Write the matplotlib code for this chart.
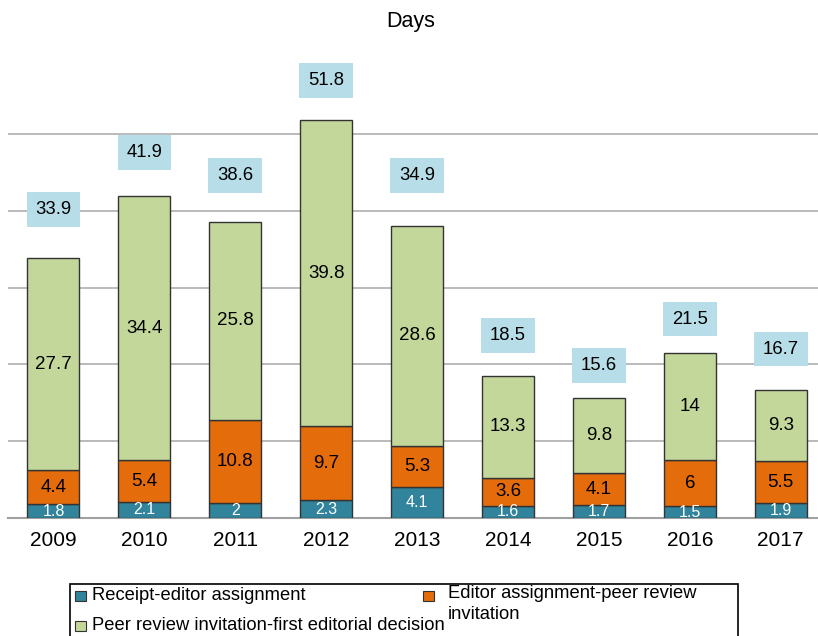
import matplotlib
matplotlib.use("Agg")
import matplotlib.pyplot as plt
from matplotlib.patches import Rectangle

plt.rcParams['font.family'] = ['Liberation Sans', 'DejaVu Sans']

years = ["2009", "2010", "2011", "2012", "2013", "2014", "2015", "2016", "2017"]
receipt_editor = [1.8, 2.1, 2, 2.3, 4.1, 1.6, 1.7, 1.5, 1.9]
editor_peer = [4.4, 5.4, 10.8, 9.7, 5.3, 3.6, 4.1, 6, 5.5]
peer_decision = [27.7, 34.4, 25.8, 39.8, 28.6, 13.3, 9.8, 14, 9.3]
total_labels = ["33.9", "41.9", "38.6", "51.8", "34.9", "18.5", "15.6", "21.5", "16.7"]
series_names = ["Receipt-editor assignment",
                "Editor assignment-peer review\ninvitation",
                "Peer review invitation-first editorial decision"]

# layout (offset of the total label box above each bar, in data units)
label_offsets = [6.3, 5.7, 6.0, 5.2, 6.6, 5.3, 4.3, 4.4, 5.3]

c_blue = "#31849B"
c_orange = "#E46C0A"
c_green = "#C4D79B"
c_box = "#B7DEE8"

W, H = 818, 636
fig = plt.figure(figsize=(W / 100, H / 100), dpi=100)
base_px = 518
top_px = 60
px_per_unit = 7.68
ax = fig.add_axes([8 / W, (H - base_px) / H, 1 - 8 / W, (base_px - top_px) / H])

x = list(range(len(years)))
bw = 0.572
ekw = dict(edgecolor="#333333", linewidth=1.0, zorder=3)
ax.bar(x, receipt_editor, bw, color=c_blue, **ekw)
b2 = [a for a in receipt_editor]
ax.bar(x, editor_peer, bw, bottom=b2, color=c_orange, **ekw)
b3 = [a + b for a, b in zip(receipt_editor, editor_peer)]
ax.bar(x, peer_decision, bw, bottom=b3, color=c_green, **ekw)
tops = [a + b for a, b in zip(b3, peer_decision)]

for i in x:
    ax.text(i, receipt_editor[i] / 2, f"{receipt_editor[i]:g}", ha="center", va="center",
            fontsize=11.5, color="white", zorder=4)
    ax.text(i, b2[i] + editor_peer[i] / 2, f"{editor_peer[i]:g}", ha="center", va="center",
            fontsize=13.5, color="black", zorder=4)
    ax.text(i, b3[i] + peer_decision[i] / 2, f"{peer_decision[i]:g}", ha="center", va="center",
            fontsize=13.5, color="black", zorder=4)
    ax.text(i, tops[i] + label_offsets[i], total_labels[i], ha="center", va="center",
            fontsize=13.3, color="black", zorder=4,
            bbox=dict(boxstyle="square,pad=0.48", facecolor=c_box, edgecolor="none"))

ax.set_xlim(-0.5, -0.5 + (W - 8) / 90.9)
ax.set_ylim(0, (base_px - top_px) / px_per_unit)
ax.set_yticks([10, 20, 30, 40, 50])
ax.yaxis.grid(True, color="#b4b4b4", linewidth=1.3, zorder=0)
ax.set_axisbelow(True)
ax.tick_params(axis="y", length=0, labelleft=False)
ax.set_xticks(x)
ax.set_xticklabels(years, fontsize=15)
ax.tick_params(axis="x", length=0, pad=9)
for s in ["top", "right", "left"]:
    ax.spines[s].set_visible(False)
ax.spines["bottom"].set_color("#a0a0a0")
ax.spines["bottom"].set_linewidth(1.5)

fig.text(411 / W, 1 - 22 / H, "Days", ha="center", va="center", fontsize=15.5)

# legend (drawn in pixel coordinates)
lax = fig.add_axes([0, 0, 1, 1], zorder=5)
lax.set_xlim(0, W)
lax.set_ylim(H, 0)
lax.axis("off")
lax.add_patch(Rectangle((70, 583.5), 668, 80, facecolor="white", edgecolor="black",
                        linewidth=1.2, clip_on=False))
entries = [(75, 596, 600, c_blue, series_names[0]),
           (423, 596, 598, c_orange, series_names[1]),
           (75, 626, 630, c_green, series_names[2])]
for xm, ym, yb, col, lab in entries:
    lax.add_patch(Rectangle((xm, ym - 5), 10.5, 10, facecolor=col, edgecolor="#333333",
                            linewidth=0.8))
    tx = 92 if xm < 200 else 448
    for k, line in enumerate(lab.split("\n")):
        lax.text(tx, yb + 21 * k, line, ha="left", va="baseline", fontsize=13.2)

fig.savefig("out.png", dpi=100)
